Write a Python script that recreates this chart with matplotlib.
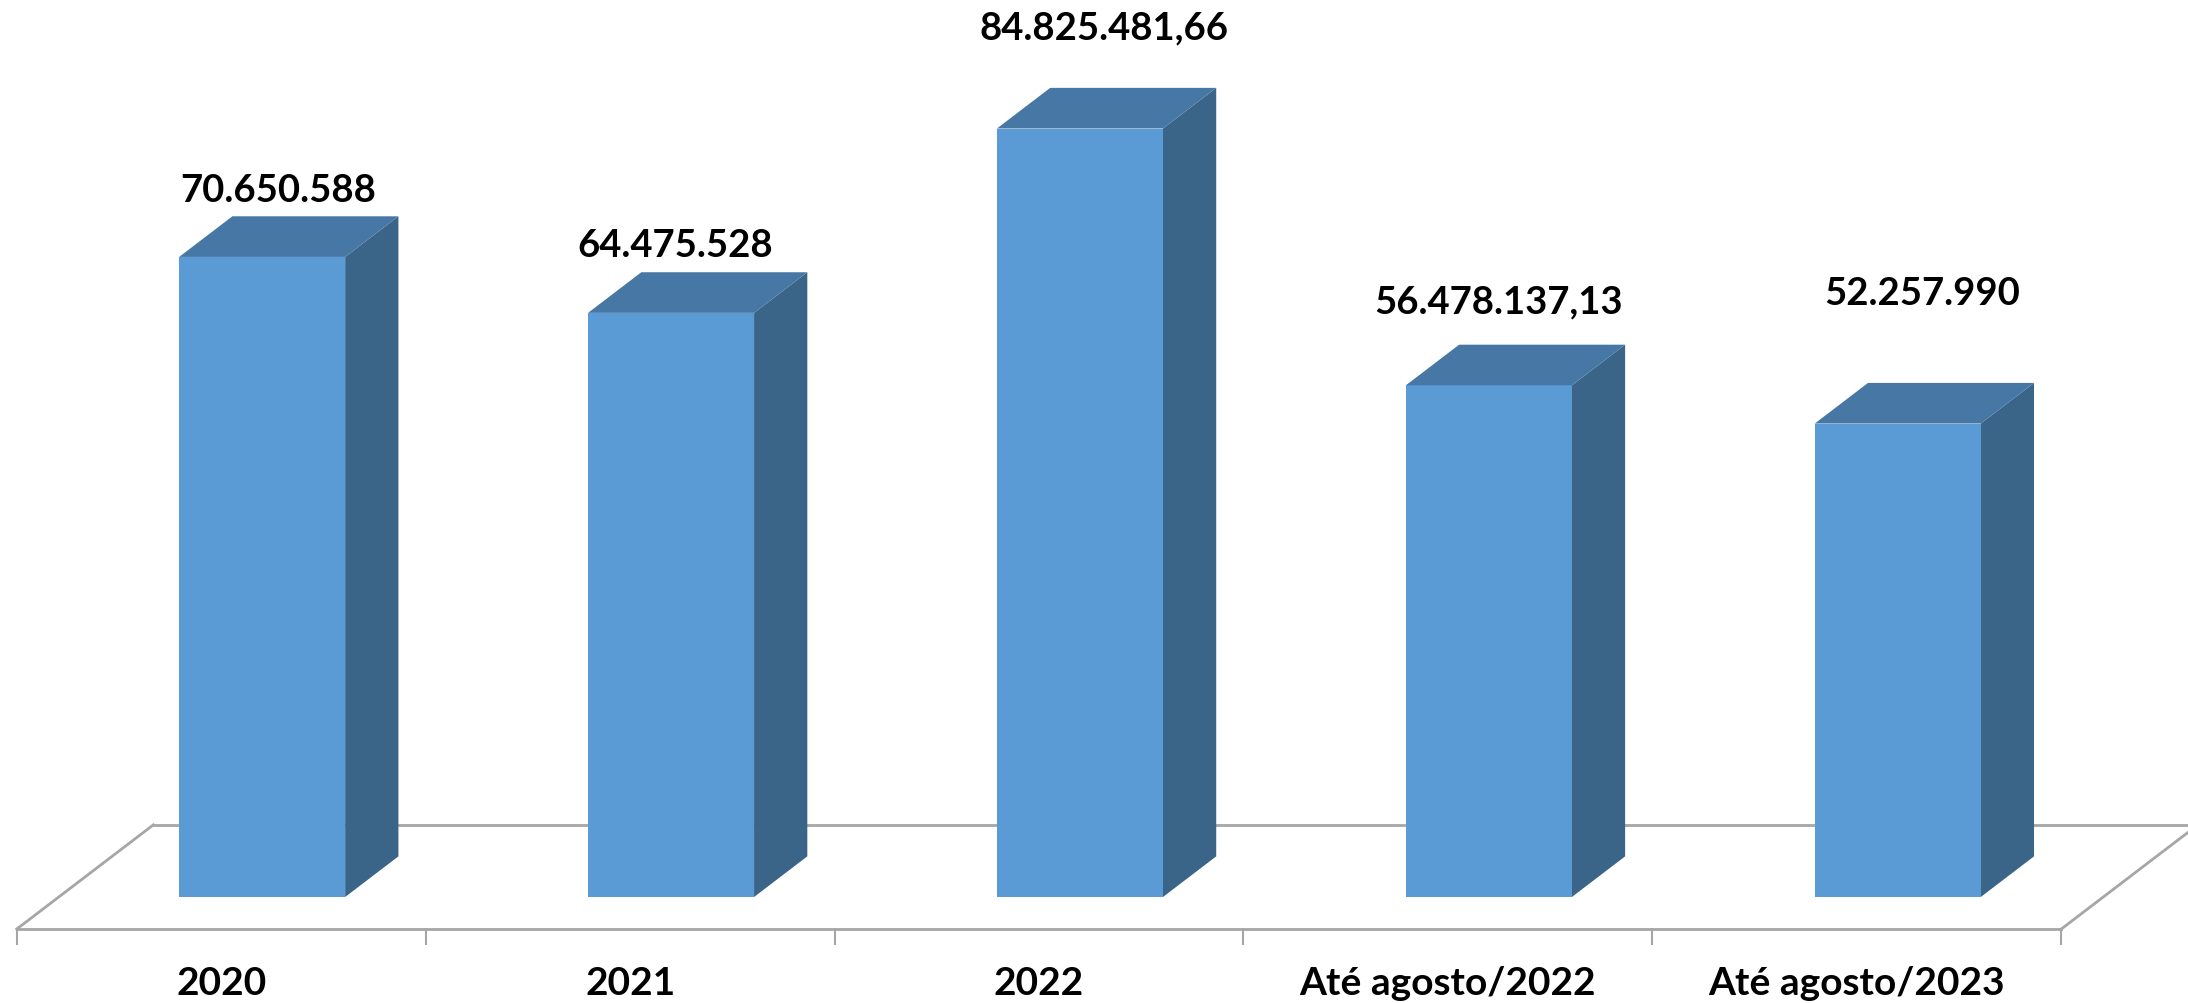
import numpy as np
import matplotlib
matplotlib.use("Agg")
from matplotlib import pyplot as plt
from matplotlib.patches import Polygon

# data (values in millions)
categories = ["2020", "2021", "2022", "Até agosto/2022", "Até agosto/2023"]
values = [70.650588, 64.475528, 84.82548166, 56.47813713, 52.257990]
value_labels = ["70.650.588", "64.475.528", "84.825.481,66", "56.478.137,13", "52.257.990"]
label_gap = [2.9, 3.0, 6.7, 4.8, 9.9]      # manual placement above bar top
label_dx = [0.14, 0.11, 0.16, 0.125, 0.16]

front_col = "#5B9BD5"
top_col = "#4677A5"
side_col = "#3A6488"
floor_col = "#A6A6A6"

# oblique projection: full floor depth shift
DX, DY = 0.334, 11.5
bar_d0, bar_depth = 0.3, 0.39
bar_w = 0.406
floor_front = -3.54

plt.rcParams['font.family'] = ['Lato', 'DejaVu Sans']

fig = plt.figure(figsize=(21.88, 10.04), dpi=100)
ax = fig.add_axes([0, 0, 1, 1])
ax.set_xlim(-0.0409, 5.310)
ax.set_ylim(-11.70, 99.12)
ax.axis("off")

n = len(categories)
# floor outline
ax.plot([0, n], [floor_front, floor_front], color=floor_col, lw=2, zorder=1)
ax.plot([0, DX], [floor_front, floor_front + DY], color=floor_col, lw=2, zorder=1)
ax.plot([DX, n + DX], [floor_front + DY, floor_front + DY], color=floor_col, lw=2, zorder=1)
ax.plot([n, n + DX], [floor_front, floor_front + DY], color=floor_col, lw=2, zorder=1)
for i in range(n + 1):
    ax.plot([i, i], [floor_front, floor_front - 1.6], color=floor_col, lw=1.5, zorder=1)

sx = bar_d0 * DX
ddx, ddy = bar_depth * DX, bar_depth * DY
for i, v in enumerate(values):
    x0 = i + 0.5 - bar_w / 2 + sx
    x1 = x0 + bar_w
    front = Polygon([(x0, 0), (x1, 0), (x1, v), (x0, v)], closed=True,
                    facecolor=front_col, edgecolor="none", zorder=3)
    side = Polygon([(x1, 0), (x1 + ddx, ddy), (x1 + ddx, v + ddy), (x1, v)], closed=True,
                   facecolor=side_col, edgecolor="none", zorder=3)
    top = Polygon([(x0, v), (x1, v), (x1 + ddx, v + ddy), (x0 + ddx, v + ddy)], closed=True,
                  facecolor=top_col, edgecolor="none", zorder=3)
    ax.add_patch(side)
    ax.add_patch(front)
    ax.add_patch(top)
    ax.text(i + 0.5 + label_dx[i], v + ddy + label_gap[i], value_labels[i],
            ha="center", va="center", fontsize=27.5, fontweight="bold", color="black")
    ax.text(i + 0.5, -9.39, categories[i], ha="center", va="center",
            fontsize=28, fontweight="bold", color="black")

fig.savefig("out.png", dpi=100, facecolor="white")
